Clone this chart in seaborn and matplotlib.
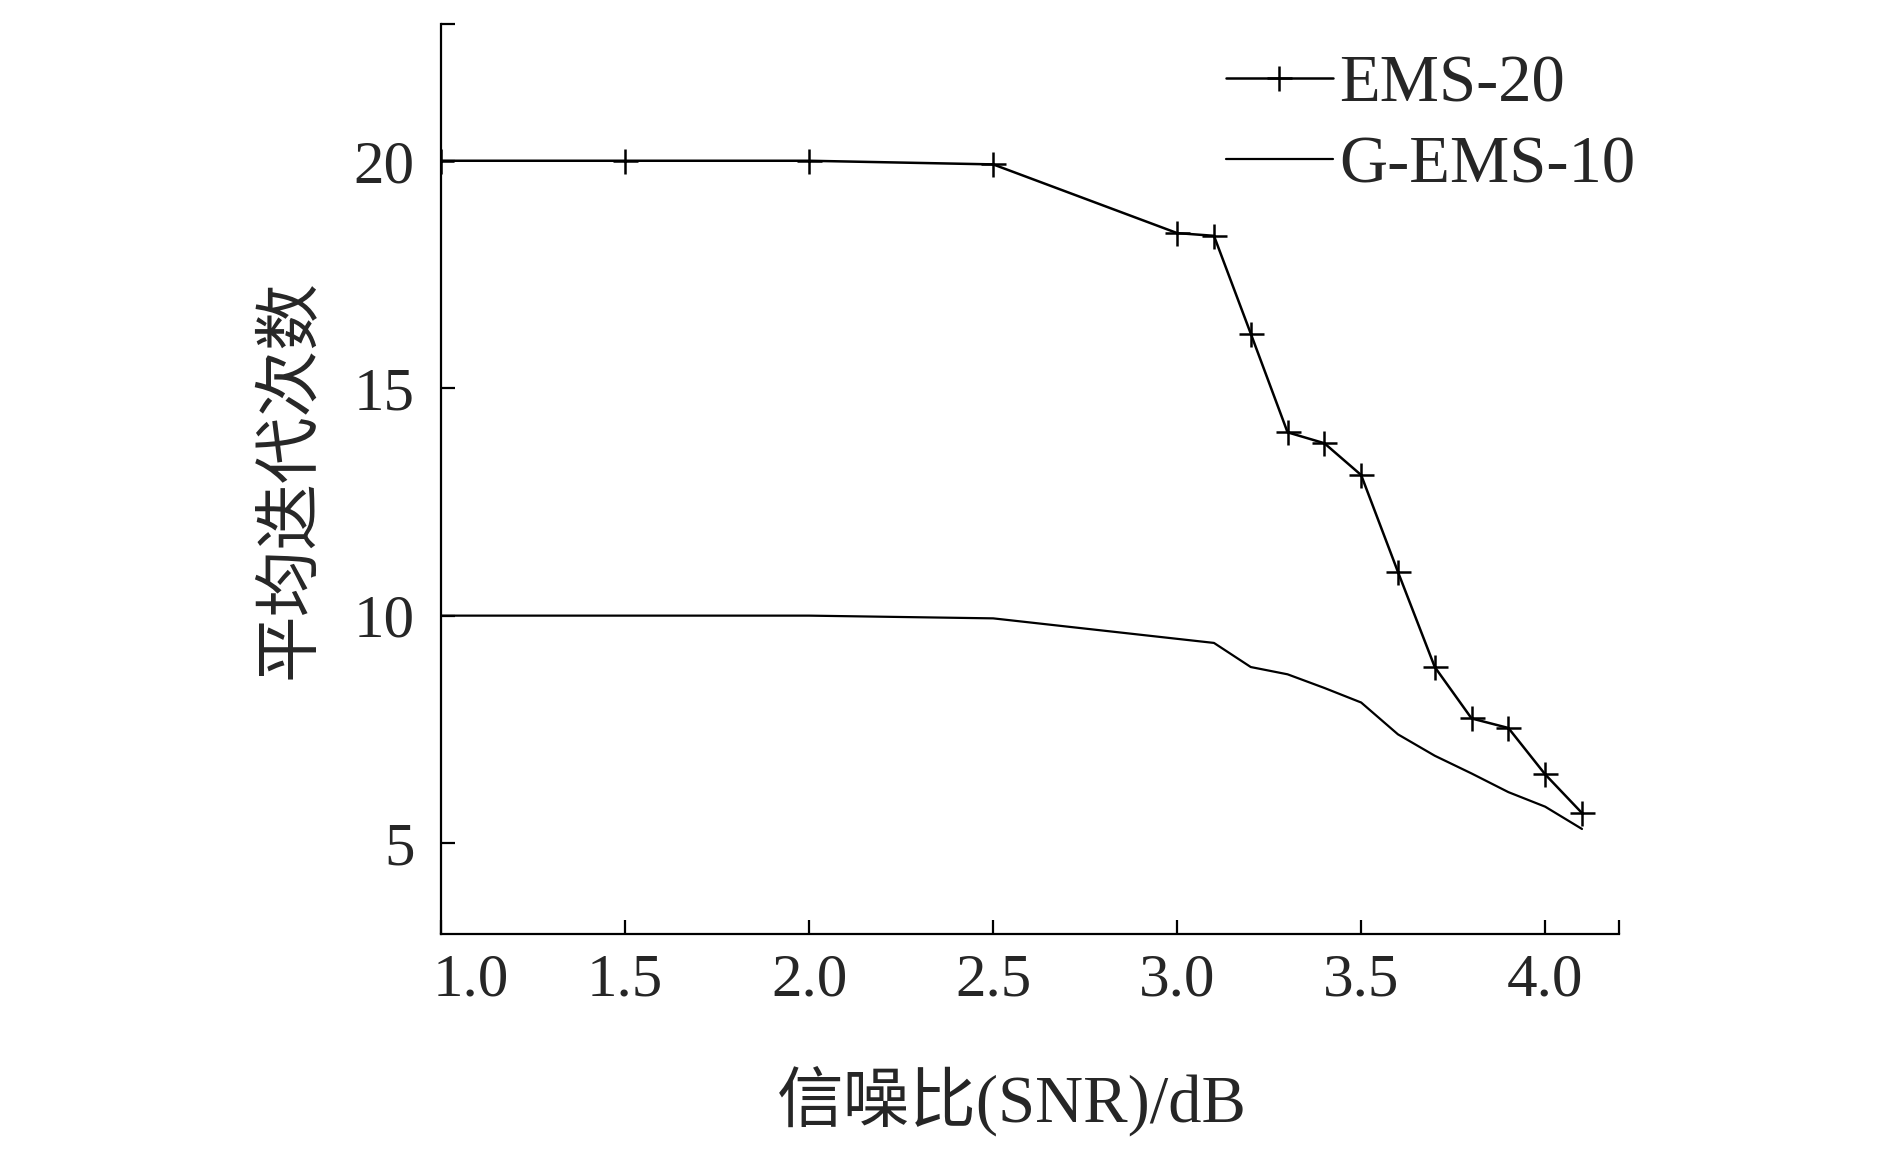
import numpy as np
import pandas as pd
import matplotlib
matplotlib.use("Agg")
import matplotlib.pyplot as plt
import matplotlib.transforms as mtransforms
import seaborn as sns

# data
snr = [1.0, 1.5, 2.0, 2.5, 3.0, 3.1, 3.2, 3.3, 3.4, 3.5, 3.6, 3.7, 3.8, 3.9, 4.0, 4.1]
ems_20 = [20.0, 20.0, 20.0, 19.92, 18.41, 18.35, 16.2, 14.03, 13.79, 13.09, 10.96, 8.87, 7.74, 7.53, 6.51, 5.66]
g_ems_10 = [10.0, 10.0, 10.0, 9.94, 9.49, 9.40, 8.87, 8.71, 8.41, 8.09, 7.39, 6.92, 6.53, 6.12, 5.80, 5.31]

xticks = [1.0, 1.5, 2.0, 2.5, 3.0, 3.5, 4.0, 4.2]
xticklabels = ['1.0', '1.5', '2.0', '2.5', '3.0', '3.5', '4.0', '']
yticks = [5, 10, 15, 20, 23]
yticklabels = ['5', '10', '15', '20', '']

sns.set_style("ticks")
plt.rcParams['font.family'] = ['Liberation Serif', 'Noto Sans CJK SC']
plt.rcParams['xtick.direction'] = 'in'
plt.rcParams['ytick.direction'] = 'in'

fig = plt.figure(figsize=(18.9, 11.57), dpi=100)
ax = fig.add_axes([0.2334, 0.1927, 0.6231, 0.7863])

sns.lineplot(x=snr, y=ems_20, ax=ax, color='black', linewidth=1.8,
             marker='+', markersize=18, markeredgewidth=1.8,
             markeredgecolor='black', label='EMS-20')
sns.lineplot(x=snr, y=g_ems_10, ax=ax, color='black', linewidth=1.6,
             label='G-EMS-10')

ax.set_xlim(1.0, 4.2)
ax.set_ylim(3, 23)
ax.set_xticks(xticks)
ax.set_xticklabels(xticklabels)
ax.set_yticks(yticks)
ax.set_yticklabels(yticklabels)
ax.tick_params(axis='x', labelsize=44, length=10, width=1.6, pad=14, color='black')
ax.tick_params(axis='y', labelsize=44, length=10, width=1.6, pad=19, color='black')
sns.despine(ax=ax)
for s in ['left', 'bottom']:
    ax.spines[s].set_linewidth(1.6)
    ax.spines[s].set_color('black')

# first x label sits a bit right of the spine in the original
lab0 = ax.get_xticklabels()[0]
lab0.set_transform(lab0.get_transform() +
                   mtransforms.ScaledTranslation(0.3, 0, fig.dpi_scale_trans))

ax.set_xlabel('信噪比(SNR)/dB', fontsize=48)
ax.xaxis.set_label_coords(0.485, -0.145)
ax.set_ylabel('平均迭代次数', fontsize=48, labelpad=22)

leg = ax.legend(loc='upper left', bbox_to_anchor=(0.631, 0.982),
                bbox_transform=fig.transFigure, frameon=False, fontsize=48,
                handlelength=1.6, handletextpad=0.1, labelspacing=0.3,
                borderpad=0)

fig.savefig('out.png', dpi=100, facecolor='white')
